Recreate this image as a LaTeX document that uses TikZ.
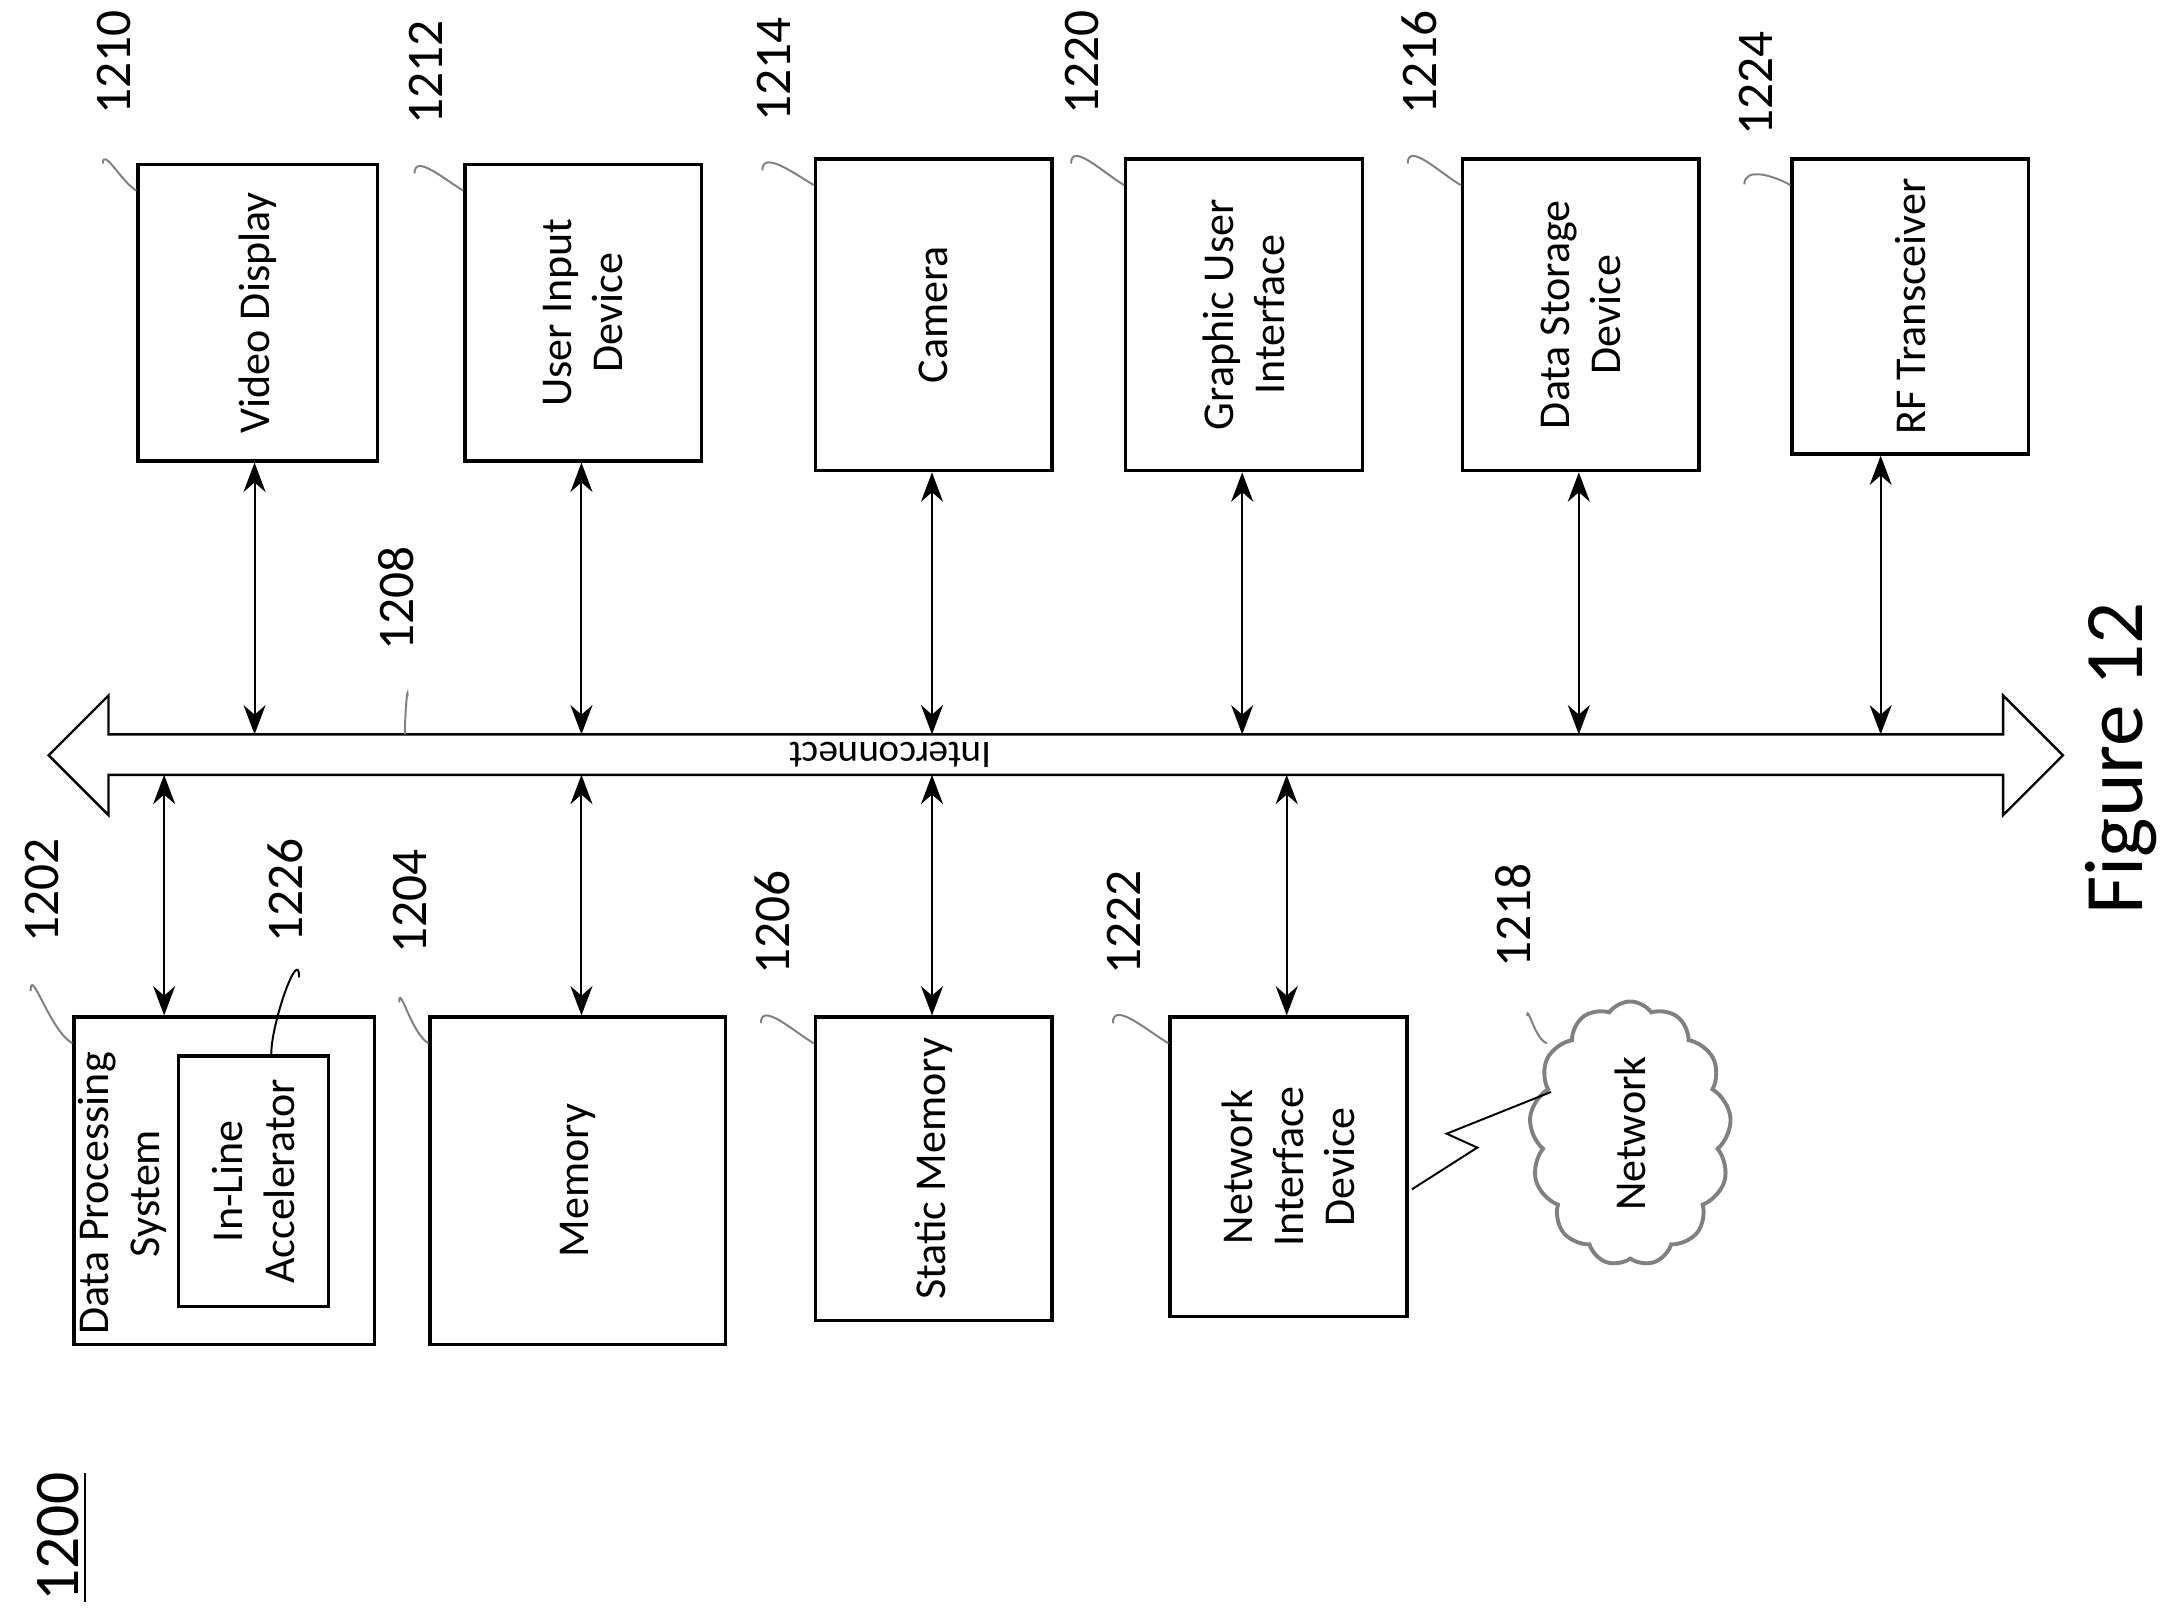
\documentclass[tikz,border=0pt]{standalone}
\usepackage{fontspec}
\setmainfont{Carlito}
\usetikzlibrary{shapes.symbols,arrows.meta}
\begin{document}
\begin{tikzpicture}[x=0.01cm,y=-0.01cm,thick,
blk/.style={draw,rectangle,line width=0.7pt,anchor=north west,align=center},
txt/.style={rotate=90,align=center,font=\fontsize{9}{10.5}\selectfont},
num/.style={rotate=90,font=\fontsize{10.5}{12}\selectfont},
lead/.style={draw,gray,thin},
link/.style={{Stealth[length=6pt]}-{Stealth[length=6pt]},thin}]
\useasboundingbox (0,0) rectangle (1560,1161);
% top row
\node[blk,minimum width=1.72cm,minimum height=2.13cm] (vid) at (98,117) {};
\node[txt] at (vid) {Video Display};
\node[blk,minimum width=1.70cm,minimum height=2.13cm] (uid) at (333,117) {};
\node[txt] at (uid) {User Input\\Device};
\node[blk,minimum width=1.70cm,minimum height=2.24cm] (cam) at (585,113) {};
\node[txt] at (cam) {Camera};
\node[blk,minimum width=1.70cm,minimum height=2.24cm] (gui) at (808,113) {};
\node[txt] at (gui) {Graphic User\\Interface};
\node[blk,minimum width=1.70cm,minimum height=2.24cm] (dsd) at (1050,113) {};
\node[txt] at (dsd) {Data Storage\\Device};
\node[blk,minimum width=1.70cm,minimum height=2.12cm] (rft) at (1287,113) {};
\node[txt] at (rft) {RF Transceiver};
% bottom row
\node[blk,minimum width=2.16cm,minimum height=2.35cm] (dps) at (52,730) {};
\node[txt] at (88,858) {Data Processing\\System};
\node[blk,minimum width=1.08cm,minimum height=1.80cm] (ila) at (127,758) {};
\node[txt] at (ila) {In-Line\\Accelerator};
\node[blk,minimum width=2.12cm,minimum height=2.35cm] (mem) at (308,730) {};
\node[txt] at (mem) {Memory};
\node[blk,minimum width=1.70cm,minimum height=2.18cm] (stm) at (585,730) {};
\node[txt] at (stm) {Static Memory};
\node[blk,minimum width=1.70cm,minimum height=2.15cm] (nid) at (840,730) {};
\node[txt] at (nid) {Network\\Interface\\Device};
\node[cloud,draw,gray,cloud puffs=13,cloud puff arc=110,aspect=0.8,minimum width=1.45cm,minimum height=1.9cm] (net) at (1172,815) {};
\node[txt] at (net) {Network};
% interconnect bus
\draw[line width=0.5pt] (35,543) -- (78,500) -- (78,528) -- (1440,528) -- (1440,500) -- (1483,543)
  -- (1440,586) -- (1440,557) -- (78,557) -- (78,586) -- cycle;
\node[rotate=180,font=\fontsize{8}{9}\selectfont] (bus) at (640,543) {Interconnect};
\coordinate (bt) at (0,528);
\coordinate (bb) at (0,557);
% links
\foreach \b/\x in {vid/183,uid/418,cam/670,gui/893,dsd/1135,rft/1352}
  \draw[link] (\x,0 |- \b.south) -- (\x,0 |- bt);
\foreach \b/\x in {dps/118,mem/418,stm/670,nid/925}
  \draw[link] (\x,0 |- bb) -- (\x,0 |- \b.north);
\draw[thin] (1015,855) -- (1062,825) -- (1040,815) -- (1115,785);
% reference numbers
\node[num] (n1210) at (82,45) {1210};
\node[num] (n1212) at (306,52) {1212};
\node[num] (n1214) at (556,50) {1214};
\node[num] (n1220) at (778,45) {1220};
\node[num] (n1216) at (1020,45) {1216};
\node[num] (n1224) at (1262,60) {1224};
\node[num] (n1208) at (285,430) {1208};
\node[num] (n1202) at (30,640) {1202};
\node[num] (n1226) at (205,640) {1226};
\node[num] (n1204) at (295,648) {1204};
\node[num] (n1206) at (555,663) {1206};
\node[num] (n1222) at (808,663) {1222};
\node[num] (n1218) at (1088,658) {1218};
\foreach \n/\b in {n1210/vid,n1212/uid,n1214/cam,n1220/gui,n1216/dsd,n1224/rft,n1202/dps,n1204/mem,n1206/stm,n1222/nid}
  \draw[lead] (\n.west) ++(-8,22) to[out=90,in=150] ([yshift=-0.2cm]\b.north west);
\draw[lead] (n1208.west) ++(8,20) to[out=90,in=90] (291,528);
\draw[lead] (n1218.west) ++(10,22) to[out=90,in=160] (1112,750);
\draw[thin] (n1226.west) ++(10,12) to[out=90,in=90] (195,758);
\node[rotate=90,font=\fontsize{17}{20}\selectfont] (fig) at (1525,545) {Figure 12};
\node[rotate=90,font=\fontsize{13}{15}\selectfont] (n1200) at (45,1105) {\underline{1200}};
\end{tikzpicture}
\end{document}
